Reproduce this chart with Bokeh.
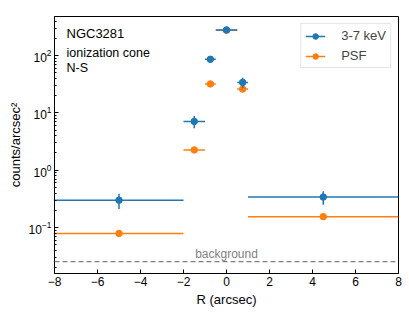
from bokeh.plotting import figure
from bokeh.models import (ColumnDataSource, Legend, LegendItem, Label, Span,
                          FixedTicker)
from bokeh.embed import file_html
from bokeh.resources import INLINE

# ---- data ----
r = [-5.0, -1.5, -0.75, 0.0, 0.75, 4.5]
r_err = [3.0, 0.5, 0.25, 0.5, 0.25, 3.5]
counts = [0.30, 7.1, 86.0, 280.0, 34.0, 0.34]
counts_err = [0.09, 1.7, 10.0, 25.0, 7.0, 0.09]
psf = [0.079, 2.26, 32.0, 276.0, 26.0, 0.155]
background = 0.0254
x_ticks = [-8, -6, -4, -2, 0, 2, 4, 6, 8]
y_ticks = [0.1, 1, 10, 100]
x_range = (-8, 8)
y_range = (0.0158, 480)

BLUE = "#1f77b4"
ORANGE = "#ff7f0e"
FONT = "Liberation Sans"

src_c = ColumnDataSource(dict(
    x=r, y=counts,
    x0=[a - e for a, e in zip(r, r_err)], x1=[a + e for a, e in zip(r, r_err)],
    y0=[a - e for a, e in zip(counts, counts_err)],
    y1=[a + e for a, e in zip(counts, counts_err)],
))
src_p = ColumnDataSource(dict(
    x=r, y=psf,
    x0=[a - e for a, e in zip(r, r_err)], x1=[a + e for a, e in zip(r, r_err)],
))

p = figure(width=409, height=313, x_range=x_range, y_range=y_range,
           y_axis_type="log", output_backend="svg", toolbar_location=None,
           min_border_left=54, min_border_right=11, min_border_top=16,
           min_border_bottom=40)
p.grid.visible = False
p.outline_line_color = "black"
p.outline_line_width = 1
p.background_fill_color = "white"
p.border_fill_color = "white"

# PSF
p_h = p.segment(x0="x0", y0="y", x1="x1", y1="y", source=src_p,
                line_color=ORANGE, line_width=1.5)
p_m = p.scatter(x="x", y="y", source=src_p, size=6.5, marker="circle",
                fill_color=ORANGE, line_color=ORANGE)

# 3-7 keV
c_h = p.segment(x0="x0", y0="y", x1="x1", y1="y", source=src_c,
                line_color=BLUE, line_width=1.5)
c_v = p.segment(x0="x", y0="y0", x1="x", y1="y1", source=src_c,
                line_color=BLUE, line_width=1.5)
c_m = p.scatter(x="x", y="y", source=src_c, size=6.5, marker="circle",
                fill_color=BLUE, line_color=BLUE)

# background
p.add_layout(Span(location=background, dimension="width", line_color="#808080",
                  line_width=1.3, line_dash="5 3"))
p.add_layout(Label(x=0, y=background, text="background", text_align="center",
                   text_baseline="bottom", y_offset=1, text_color="#808080",
                   text_font=FONT, text_font_size="12px"))

# annotations
for txt, off, size in [("NGC3281", -17, "13px"),
                       ("ionization cone", -36, "12.5px"),
                       ("N-S", -51, "12.5px")]:
    p.add_layout(Label(x=x_range[0], y=y_range[1], x_offset=12, y_offset=off,
                       text=txt, text_font=FONT, text_font_size=size,
                       text_baseline="alphabetic", text_align="left",
                       text_color="black"))

# axes
p.xaxis.ticker = FixedTicker(ticks=x_ticks)
p.xaxis.major_label_overrides = {t: (str(t) if t >= 0 else "\u2212" + str(-t)) for t in x_ticks}
minor = [m * d for d in [0.01, 0.1, 1, 10, 100] for m in range(2, 10)]
p.yaxis.ticker = FixedTicker(ticks=y_ticks, minor_ticks=minor)
p.xaxis.axis_label = "R (arcsec)"
p.yaxis.axis_label = "counts/arcsec\u00b2"
for ax in (p.xaxis[0], p.yaxis[0]):
    ax.major_tick_in = 4
    ax.major_tick_out = 0
    ax.minor_tick_in = 2
    ax.minor_tick_out = 0
    ax.axis_line_color = "black"
    ax.major_tick_line_color = "black"
    ax.minor_tick_line_color = "black"
    ax.major_label_text_font = FONT
    ax.major_label_text_font_size = "12px"
    ax.major_label_text_color = "black"
    ax.axis_label_text_font = FONT
    ax.axis_label_text_font_size = "13px"
    ax.axis_label_text_font_style = "normal"
    ax.axis_label_text_color = "black"
    ax.major_label_standoff = 3
    ax.axis_label_standoff = 3
p.xaxis.minor_tick_line_color = None

legend = Legend(items=[
    LegendItem(label="3-7 keV", renderers=[c_h, c_m]),
    LegendItem(label="PSF", renderers=[p_h, p_m]),
], location="top_right", margin=7, glyph_width=20, glyph_height=14,
    label_height=14, label_text_font=FONT, label_text_font_size="13px",
    spacing=5, padding=4, border_line_color="#cccccc", border_line_width=1,
    label_standoff=16)
p.add_layout(legend)

open("out.html", "w").write(file_html(p, INLINE))
